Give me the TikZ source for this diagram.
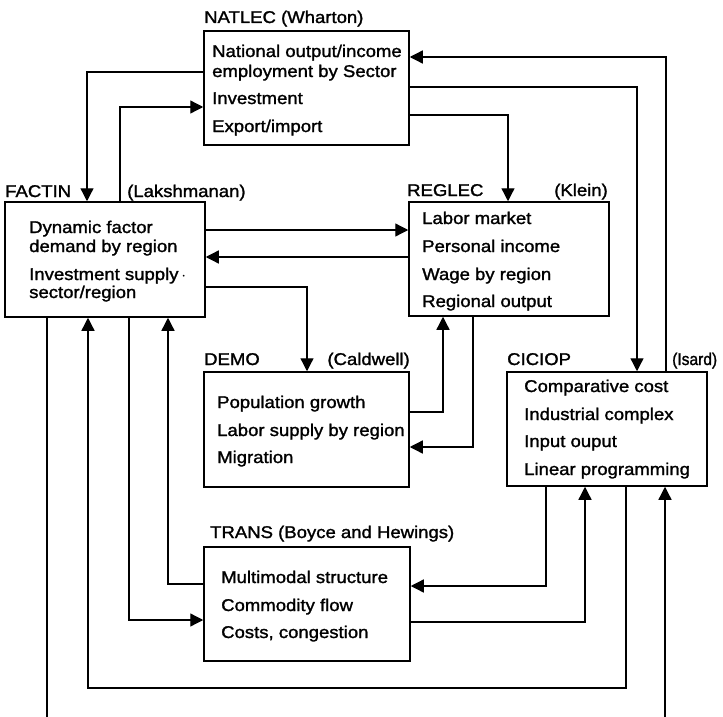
\documentclass[tikz,border=0pt]{standalone}
\usepackage{fontspec}
\setmainfont{Liberation Sans}[FakeStretch=1.09,FakeBold=1.5]
\usetikzlibrary{arrows.meta}
\begin{document}
\begin{tikzpicture}[x=1pt,y=-1pt,
  box/.style={draw, line width=1.5pt, inner sep=0pt},
  txt/.style={anchor=base west, inner sep=0pt, font=\fontsize{17}{20}\selectfont},
  lbl/.style={anchor=base west, inner sep=0pt, font=\fontsize{17}{20}\selectfont},
  lblr/.style={anchor=base east, inner sep=0pt, font=\fontsize{17}{20}\selectfont},
  plain/.style={line width=1.3pt},
  link/.style={plain, -{Triangle[length=13pt,width=13pt]}}]
\useasboundingbox (0,0) rectangle (723,717);

% model boxes
\node[box, minimum width=205pt, minimum height=114pt] (natlec) at (306.5,88) {};
\node[box, minimum width=200pt, minimum height=115pt] (factin) at (105,259.5) {};
\node[box, minimum width=200pt, minimum height=114pt] (reglec) at (509,259) {};
\node[box, minimum width=205pt, minimum height=115pt] (demo)   at (306.5,429.5) {};
\node[box, minimum width=200pt, minimum height=114pt] (ciciop) at (607,429) {};
\node[box, minimum width=206pt, minimum height=114pt] (trans)  at (307,604) {};

% titles
\node[lbl]  (natlecT) at (204,23)  {NATLEC (Wharton)};
\node[lbl]  (factinT) at (5,197)   {FACTIN};
\node[lbl]  (factinA) at (127,197) {(Lakshmanan)};
\node[lbl]  (reglecT) at (407,196) {REGLEC};
\node[lblr] (reglecA) at (608,196) {(Klein)};
\node[lbl]  (demoT)   at (204,365) {DEMO};
\node[lblr] (demoA)   at (410,365) {(Caldwell)};
\node[lbl]  (ciciopT) at (507,365) {CICIOP};
\node[lbl]  (ciciopA) at (672,365) {\scalebox{0.84}[1]{(Isard)}};
\node[lbl]  (transT)  at (210,538) {TRANS (Boyce and Hewings)};

% box contents
\node[txt] (n1) at (212,57)  {National output/income};
\node[txt] (n2) at (212,77)  {employment by Sector};
\node[txt] (n3) at (212,104) {Investment};
\node[txt] (n4) at (212,132) {Export/import};

\node[txt] (f1) at (29,233) {Dynamic factor};
\node[txt] (f2) at (29,252) {demand by region};
\node[txt] (f3) at (29,280) {Investment supply\,$\cdot$};
\node[txt] (f4) at (29,298) {sector/region};

\node[txt] (r1) at (422,224) {Labor market};
\node[txt] (r2) at (422,252) {Personal income};
\node[txt] (r3) at (422,280) {Wage by region};
\node[txt] (r4) at (422,307) {Regional output};

\node[txt] (d1) at (217,408) {Population growth};
\node[txt] (d2) at (217,436) {Labor supply by region};
\node[txt] (d3) at (217,463) {Migration};

\node[txt] (c1) at (524,392) {Comparative cost};
\node[txt] (c2) at (524,420) {Industrial complex};
\node[txt] (c3) at (524,447) {Input ouput};
\node[txt] (c4) at (524,475) {Linear programming};

\node[txt] (t1) at (221,583) {Multimodal structure};
\node[txt] (t2) at (221,611) {Commodity flow};
\node[txt] (t3) at (221,638) {Costs, congestion};

% free ends and bends
\coordinate (loopcorner) at (88,688);
\coordinate (inC)  at (665,717);
\coordinate (outF) at (47,717);

% links
\draw[link] (natlec.west |- 0,72) -| (factin.north -| 87,0);
\draw[link] (factin.north -| 120,0) |- (natlec.west |- 0,107);
\draw[link] (ciciop.north -| 666,0) |- (natlec.east |- 0,57);
\draw[link] (natlec.east |- 0,87) -| (ciciop.north -| 637,0);
\draw[link] (natlec.east |- 0,115) -| (reglec.north -| 508,0);
\draw[link] (factin.east |- 0,230) -- (reglec.west |- 0,230);
\draw[link] (reglec.west |- 0,257) -- (factin.east |- 0,257);
\draw[link] (factin.east |- 0,287) -| (demo.north -| 307,0);
\draw[link] (demo.east |- 0,412) -| (reglec.south -| 443,0);
\draw[link] (reglec.south -| 473,0) |- (demo.east |- 0,447);
\draw[link] (ciciop.south -| 546,0) |- (trans.east |- 0,586);
\draw[link] (trans.east |- 0,622) -| (ciciop.south -| 585,0);
\draw[link] (ciciop.south -| 626,0) |- (loopcorner) -- (factin.south -| loopcorner);
\draw[link] (inC) -- (ciciop.south -| inC);
\draw[plain] (factin.south -| outF) -- (outF);
\draw[link] (factin.south -| 129,0) |- (trans.west |- 0,620);
\draw[link] (trans.west |- 0,584) -| (factin.south -| 168,0);
\end{tikzpicture}
\end{document}
